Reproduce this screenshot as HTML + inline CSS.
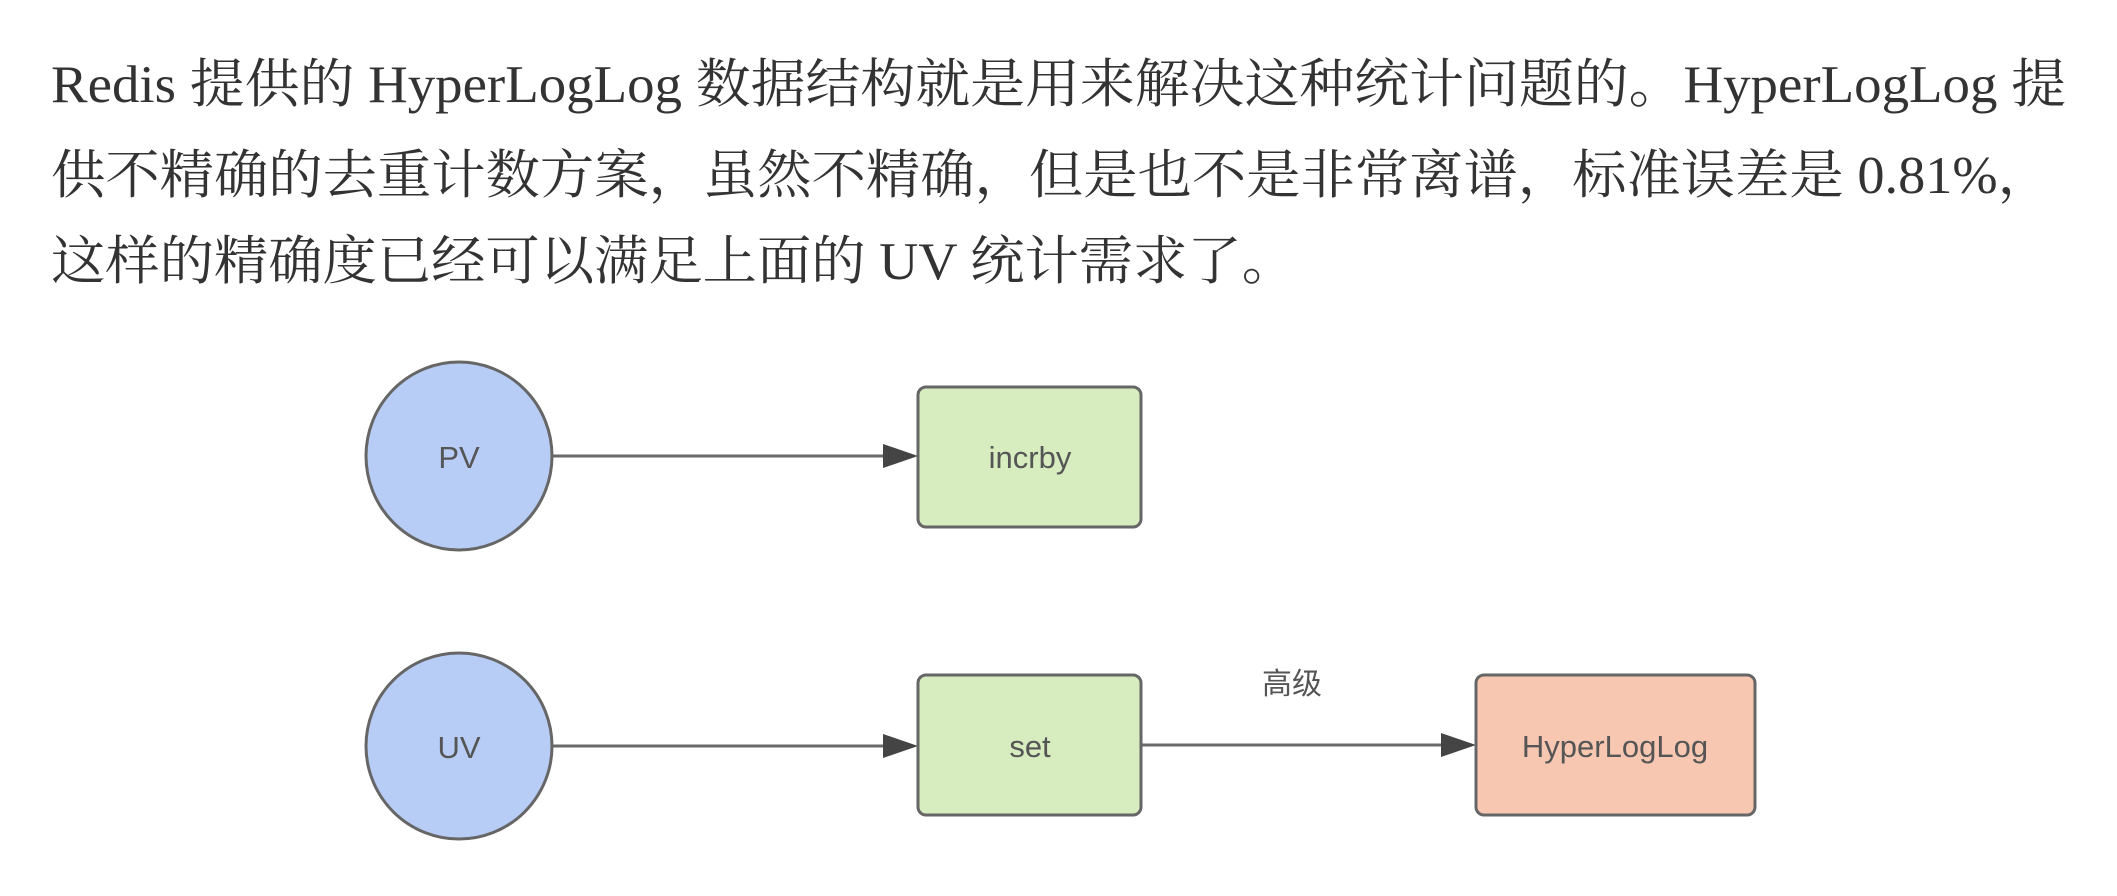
<!DOCTYPE html>
<html><head><meta charset="utf-8"><style>
html,body{margin:0;padding:0;background:#fff;width:2117px;height:896px;overflow:hidden}
</style></head><body>
<svg width="2117" height="896" style="position:absolute;left:0;top:0" font-family="Liberation Sans, Noto Sans CJK SC, sans-serif">
<g font-family="Liberation Serif, Noto Serif CJK SC, serif" font-size="53" fill="#333">
<text x="51" y="102" textLength="2015" lengthAdjust="spacingAndGlyphs">Redis 提供的 HyperLogLog 数据结构就是用来解决这种统计问题的。HyperLogLog 提</text>
<text x="51" y="193" textLength="2001" lengthAdjust="spacingAndGlyphs">供不精确的去重计数方案，虽然不精确，但是也不是非常离谱，标准误差是 0.81%，</text>
<text x="51" y="279" textLength="1245" lengthAdjust="spacingAndGlyphs">这样的精确度已经可以满足上面的 UV 统计需求了。</text>
</g>
<g stroke="#6a6a6a" stroke-width="3" fill="none">
<line x1="553" y1="456" x2="885" y2="456"/>
<line x1="553" y1="746" x2="885" y2="746"/>
<line x1="1141" y1="745" x2="1443" y2="745"/>
</g>
<g fill="#444">
<polygon points="883,444 918,456 883,468"/>
<polygon points="883,734 918,746 883,758"/>
<polygon points="1441,733 1476,745 1441,757"/>
</g>
<g stroke="#666" stroke-width="3">
<ellipse cx="459" cy="456" rx="93" ry="94" fill="#b8cdf5"/>
<ellipse cx="459" cy="746" rx="93" ry="93" fill="#b8cdf5"/>
<rect x="918" y="387" width="223" height="140" rx="8" fill="#d7ecbf"/>
<rect x="918" y="675" width="223" height="140" rx="8" fill="#d7ecbf"/>
<rect x="1476" y="675" width="279" height="140" rx="8" fill="#f8c7b1"/>
</g>
<g fill="#555" font-size="31" text-anchor="middle">
<text x="459" y="468">PV</text>
<text x="459" y="758">UV</text>
<text x="1030" y="468">incrby</text>
<text x="1030" y="757">set</text>
<text x="1615" y="757">HyperLogLog</text>
<text x="1292" y="694" font-size="30">高级</text>
</g>
</svg>
</body></html>
